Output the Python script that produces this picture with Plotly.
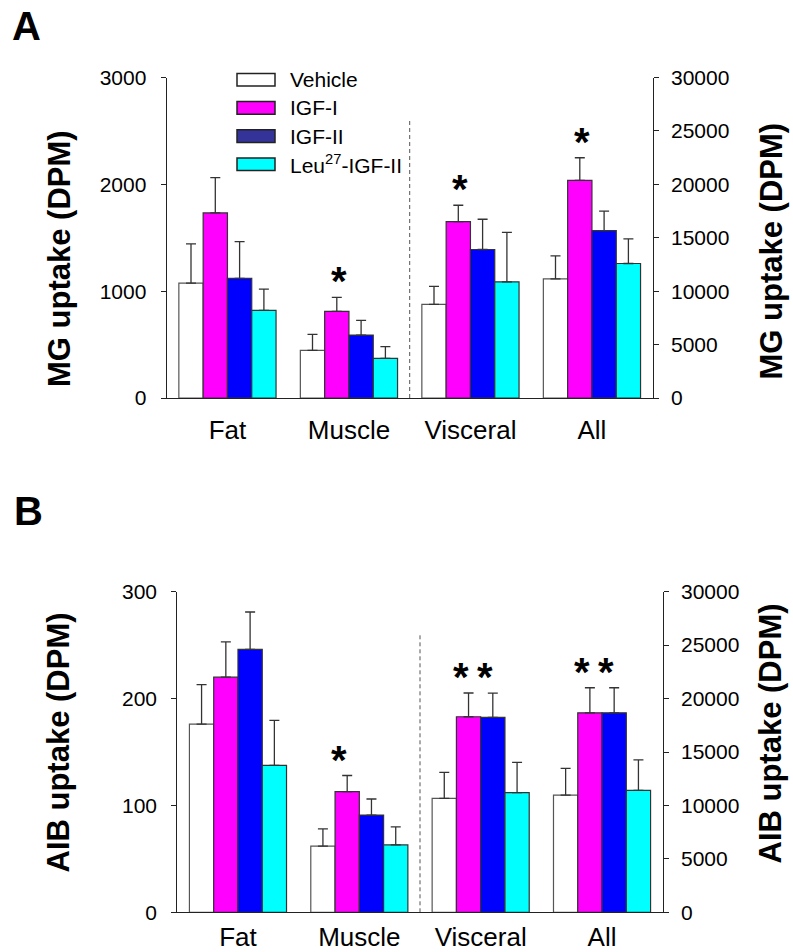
import plotly.graph_objects as go

# ---------------- data ----------------
categories = ["Fat", "Muscle", "Visceral", "All"]
series_names = ["Vehicle", "IGF-I", "IGF-II", "Leu<sup>27</sup>-IGF-II"]

# Panel A: MG uptake (Fat, Muscle -> left axis; Visceral, All -> right axis)
mg_vehicle = [1075, 446, 8760, 11150]
mg_igf1 = [1732, 810, 16510, 20370]
mg_igf2 = [1119, 589, 13900, 15670]
mg_leu = [820, 371, 10870, 12590]
mg_vehicle_sem = [367, 149, 1680, 2150]
mg_igf1_sem = [330, 131, 1530, 2120]
mg_igf2_sem = [345, 137, 2830, 1830]
mg_leu_sem = [199, 109, 4640, 2300]

# Panel B: AIB uptake
aib_vehicle = [176, 62, 10660, 10970]
aib_igf1 = [220, 113, 18300, 18670]
aib_igf2 = [246, 91, 18240, 18670]
aib_leu = [137.5, 63, 11190, 11410]
aib_vehicle_sem = [37, 16, 2430, 2500]
aib_igf1_sem = [33, 15, 2220, 2340]
aib_igf2_sem = [35, 15, 2270, 2340]
aib_leu_sem = [42, 17, 2840, 2860]

# significance stars: (category index, series index)
mg_stars = [(1, 1), (2, 1), (3, 1)]
aib_stars = [(1, 1), (2, 1), (2, 2), (3, 1), (3, 2)]

mg_left_ticks = [0, 1000, 2000, 3000]
aib_left_ticks = [0, 100, 200, 300]
right_ticks = [0, 5000, 10000, 15000, 20000, 25000, 30000]

# ---------------- style ----------------
bar_colors = ["#FFFFFF", "#FF00FF", "#0000FF", "#00FFFF"]
legend_colors = ["#FFFFFF", "#FF00FF", "#333399", "#00FFFF"]
outline_colors = ["#555555", "#333333", "#333333", "#333333"]
FONT = "Liberation Sans, Arial, sans-serif"
W, H = 793, 952
BAR_W = 0.2

def px_x(p):
    return p / W

def px_y(p):
    return 1 - p / H

fig = go.Figure()

panels = [
    dict(means=[mg_vehicle, mg_igf1, mg_igf2, mg_leu],
         sems=[mg_vehicle_sem, mg_igf1_sem, mg_igf2_sem, mg_leu_sem],
         xa="x", yl="y", yr="y2", stars=mg_stars, star_xshift=2),
    dict(means=[aib_vehicle, aib_igf1, aib_igf2, aib_leu],
         sems=[aib_vehicle_sem, aib_igf1_sem, aib_igf2_sem, aib_leu_sem],
         xa="x2", yl="y3", yr="y4", stars=aib_stars, star_xshift=-8),
]

annotations = []
shapes = []

for p in panels:
    for i, name in enumerate(series_names):
        for part, ya in ((slice(0, 2), p["yl"]), (slice(2, 4), p["yr"])):
            fig.add_trace(go.Bar(
                x=categories[part], y=p["means"][i][part],
                xaxis=p["xa"], yaxis=ya,
                width=BAR_W, offset=-0.4 + BAR_W * i,
                marker=dict(color=bar_colors[i],
                            line=dict(color=outline_colors[i], width=1.2)),
                error_y=dict(type="data", symmetric=False,
                             array=p["sems"][i][part],
                             arrayminus=[0] * len(p["sems"][i][part]),
                             color="#333333", thickness=1.3, width=5),
                name=name, showlegend=False,
            ))
    for ci, si in p["stars"]:
        ya = p["yl"] if ci < 2 else p["yr"]
        annotations.append(dict(
            x=ci - 0.4 + BAR_W * si + BAR_W / 2,
            y=p["means"][si][ci] + p["sems"][si][ci],
            xref=p["xa"], yref=ya, text="*", showarrow=False,
            xanchor="center", yanchor="bottom", yshift=-8,
            xshift=p["star_xshift"],
            font=dict(family=FONT, size=40, color="black", weight="bold"),
        ))
    # dashed separator between left-scale and right-scale tissues
    shapes.append(dict(type="line", xref=p["xa"], yref=p["yr"],
                       x0=1.5, x1=1.5, y0=0, y1=26000,
                       line=dict(color="#555555", width=1, dash="4px,3px")))

# legend drawn manually (wide rectangular swatches)
leg_top = 79.7
leg_step = 28.2
for i, name in enumerate(series_names):
    cy = leg_top + leg_step * i
    shapes.append(dict(type="rect", xref="paper", yref="paper",
                       x0=px_x(237), x1=px_x(275), y0=px_y(cy - 6.3), y1=px_y(cy + 6.3),
                       fillcolor=legend_colors[i], line=dict(color="#222222", width=1.5)))
    annotations.append(dict(x=px_x(288), y=px_y(cy), xref="paper", yref="paper",
                            text=name, showarrow=False, xanchor="left", yanchor="middle",
                            font=dict(family=FONT, size=21, color="black")))

# panel letters
for letter, xp, yp in (("A", 10, 2), ("B", 12, 487)):
    annotations.append(dict(x=px_x(xp), y=px_y(yp), xref="paper", yref="paper",
                            text=letter, showarrow=False, xanchor="left", yanchor="top",
                            font=dict(family=FONT, size=40, color="black", weight="bold")))

# axis titles
for txt, xp, yp in (("MG uptake (DPM)", 60, 259), ("MG uptake (DPM)", 771, 251.5),
                    ("AIB uptake (DPM)", 58, 742.5), ("AIB uptake (DPM)", 770, 733.5)):
    annotations.append(dict(x=px_x(xp), y=px_y(yp), xref="paper", yref="paper",
                            text=txt, showarrow=False, textangle=-90,
                            xanchor="center", yanchor="middle",
                            font=dict(family=FONT, size=31, color="black", weight="bold")))

tick_font = dict(family=FONT, size=21, color="black")
cat_font = dict(family=FONT, size=26, color="black")
axis_common = dict(showline=True, linecolor="#222222", linewidth=1.2,
                   showgrid=False, zeroline=False, automargin=False)
y_common = dict(ticks="outside", ticklen=5, tickcolor="#222222", tickfont=tick_font, **axis_common)

yA = [px_y(398), px_y(77.5)]
yB = [px_y(912.3), px_y(591.7)]

fig.update_layout(
    width=W, height=H, margin=dict(l=0, r=0, t=0, b=0, pad=0), autosize=False,
    paper_bgcolor="white", plot_bgcolor="white",
    barmode="overlay", showlegend=False,
    font=dict(family=FONT, color="black"),
    xaxis=dict(domain=[px_x(166.7), px_x(652.7)], anchor="y", type="category",
               categoryorder="array", categoryarray=categories, range=[-0.5, 3.5],
               ticks="", ticklabelstandoff=9, tickfont=cat_font, **axis_common),
    yaxis=dict(domain=yA, anchor="x", range=[0, 3000], tickvals=mg_left_ticks,
               ticktext=[str(v) for v in mg_left_ticks], ticklabelstandoff=10, **y_common),
    yaxis2=dict(overlaying="y", side="right", anchor="x", range=[0, 30000], tickvals=right_ticks,
                ticktext=[str(v) for v in right_ticks], ticklabelstandoff=8, **y_common),
    xaxis2=dict(domain=[px_x(177.3), px_x(662.7)], anchor="y3", type="category",
                categoryorder="array", categoryarray=categories, range=[-0.5, 3.5],
                ticks="", ticklabelstandoff=1, tickfont=cat_font, **axis_common),
    yaxis3=dict(domain=yB, anchor="x2", range=[0, 300], tickvals=aib_left_ticks,
                ticktext=[str(v) for v in aib_left_ticks], ticklabelstandoff=10, **y_common),
    yaxis4=dict(overlaying="y3", side="right", anchor="x2", range=[0, 30000], tickvals=right_ticks,
                ticktext=[str(v) for v in right_ticks], ticklabelstandoff=8, **y_common),
    annotations=annotations, shapes=shapes,
)

fig.write_html("out.html", config={"displayModeBar": False},
               post_script="document.body.style.margin='0';document.body.style.overflow='hidden';")
